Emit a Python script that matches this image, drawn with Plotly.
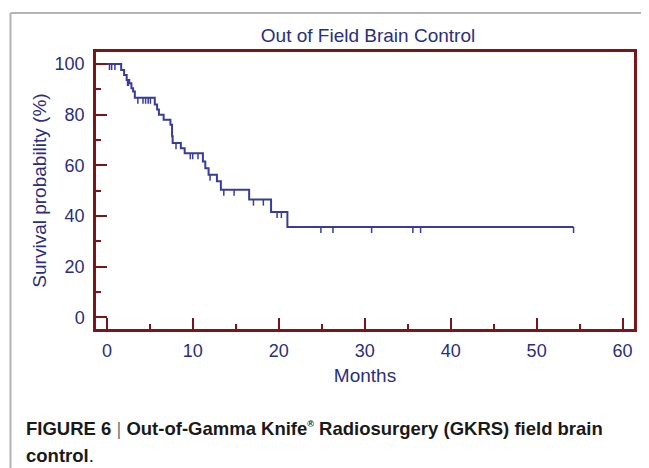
import plotly.graph_objects as go

# Kaplan-Meier step curve (months, survival %)
step_times = [0, 1.66, 2.0, 2.3, 2.6, 2.85, 3.05, 3.25, 5.57, 5.84, 6.05, 6.6, 7.39, 7.58, 7.65,
              8.6, 9.05, 11.17, 11.45, 11.83, 12.8, 13.26, 16.55, 19.1, 21.0, 54.3]
step_surv = [100, 97.6, 95.7, 93.7, 92.4, 90.4, 89.1, 86.7, 84.0, 82.0, 80.0, 78.0, 76.0, 71.5, 68.8,
             66.8, 64.8, 61.5, 58.9, 56.3, 53.7, 50.4, 46.5, 41.6, 35.7, 35.7]

# Censored observations (months, survival %)
cens_times = [0.3, 0.55, 0.93, 2.4, 2.5, 3.6, 4.2, 4.5, 4.8, 5.06, 8.04, 9.7, 9.98, 10.6, 12.0,
              13.6, 14.8, 17.05, 18.2, 19.8, 20.3, 24.9, 26.3, 30.8, 35.6, 36.5, 54.3]
cens_surv = [100, 100, 100, 93.7, 93.7, 86.7, 86.7, 86.7, 86.7, 86.7, 68.8, 64.8, 64.8, 64.8, 56.3,
             50.4, 50.4, 46.5, 46.5, 41.6, 41.6, 35.7, 35.7, 35.7, 35.7, 35.7, 35.7]

x_ticks = [0, 10, 20, 30, 40, 50, 60]
y_ticks = [0, 20, 40, 60, 80, 100]

LINE = "#383d97"
TEXT = "#2a2e80"
AXIS = "#7a1619"
FONT = "Liberation Sans, Arial, sans-serif"

# page body has an 8px margin: figure is drawn 8px in from the window's corner
OFF = 8
W, H = 649 - OFF, 468 - OFF
L, R, T, B = 96 - OFF, 12, 52 - OFF, 139

cx, cy = [], []
for t, s in zip(cens_times, cens_surv):
    cx += [t, t, None]
    cy += [s, s - 2.4, None]

fig = go.Figure()
fig.add_trace(go.Scatter(x=step_times, y=step_surv, mode="lines", line=dict(color=LINE, width=2, shape="hv"),
                         showlegend=False, hoverinfo="skip"))
fig.add_trace(go.Scatter(x=cx, y=cy, mode="lines", line=dict(color=LINE, width=1.5),
                         showlegend=False, hoverinfo="skip"))

fig.update_layout(
    width=W, height=H,
    margin=dict(l=L, r=R, t=T, b=B),
    paper_bgcolor="white", plot_bgcolor="white",
    font=dict(family=FONT, color=TEXT, size=18),
    title=dict(text="Out of Field Brain Control", x=(368 - OFF) / W,
               xanchor="center", y=1 - (35 - OFF) / H, yanchor="middle",
               font=dict(size=19, color=TEXT, family=FONT)),
)
fig.update_xaxes(
    range=[-1.27, 61.33], tickvals=x_ticks, ticktext=[str(v) for v in x_ticks],
    showgrid=False, zeroline=False,
    showline=True, linecolor=AXIS, linewidth=2.5, mirror=True,
    ticks="inside", ticklen=11, tickwidth=2, tickcolor=AXIS,
    minor=dict(dtick=5, tick0=0, ticks="inside", ticklen=5, tickwidth=1.5, tickcolor=AXIS),
    tickfont=dict(size=18, color=TEXT), ticklabelstandoff=4,
    title=dict(text="Months", font=dict(size=19, color=TEXT), standoff=9),
)
fig.update_yaxes(
    range=[-4.57, 104.73], tickvals=y_ticks, ticktext=[str(v) for v in y_ticks],
    showgrid=False, zeroline=False,
    showline=True, linecolor=AXIS, linewidth=2.5, mirror=True,
    ticks="inside", ticklen=11, tickwidth=2, tickcolor=AXIS,
    minor=dict(dtick=10, tick0=0, ticks="inside", ticklen=5, tickwidth=1.5, tickcolor=AXIS),
    tickfont=dict(size=18, color=TEXT), ticklabelstandoff=5,
    title=dict(text="Survival probability (%)", font=dict(size=19, color=TEXT), standoff=3),
)

# positions given in window pixels of the reference
pw, ph = W - L - R, H - T - B
def px(xp):
    return (xp - OFF - L) / pw
def py(yp):
    return (H - B - (yp - OFF)) / ph

fig.add_shape(type="line", xref="paper", yref="paper", x0=px(10), x1=px(10), y0=py(13), y1=py(470),
              line=dict(color="#b4b4b4", width=2))
fig.add_shape(type="line", xref="paper", yref="paper", x0=px(10), x1=px(652), y0=py(13), y1=py(13),
              line=dict(color="#b4b4b4", width=2))

fig.add_annotation(xref="paper", yref="paper", x=px(24), y=py(428), xanchor="left", yanchor="middle",
                   showarrow=False, align="left",
                   text="<b>FIGURE 6</b> <span style='color:#777'>|</span> <b>Out-of-Gamma Knife<sup><span style='font-size:9px'>®</span></sup> Radiosurgery (GKRS) field brain</b>",
                   font=dict(size=18.5, color="#1a1a1a", family=FONT))
fig.add_annotation(xref="paper", yref="paper", x=px(24), y=py(455), xanchor="left", yanchor="middle",
                   showarrow=False, align="left",
                   text="<b>control</b>.",
                   font=dict(size=18.5, color="#1a1a1a", family=FONT))

fig.write_html("out.html")
